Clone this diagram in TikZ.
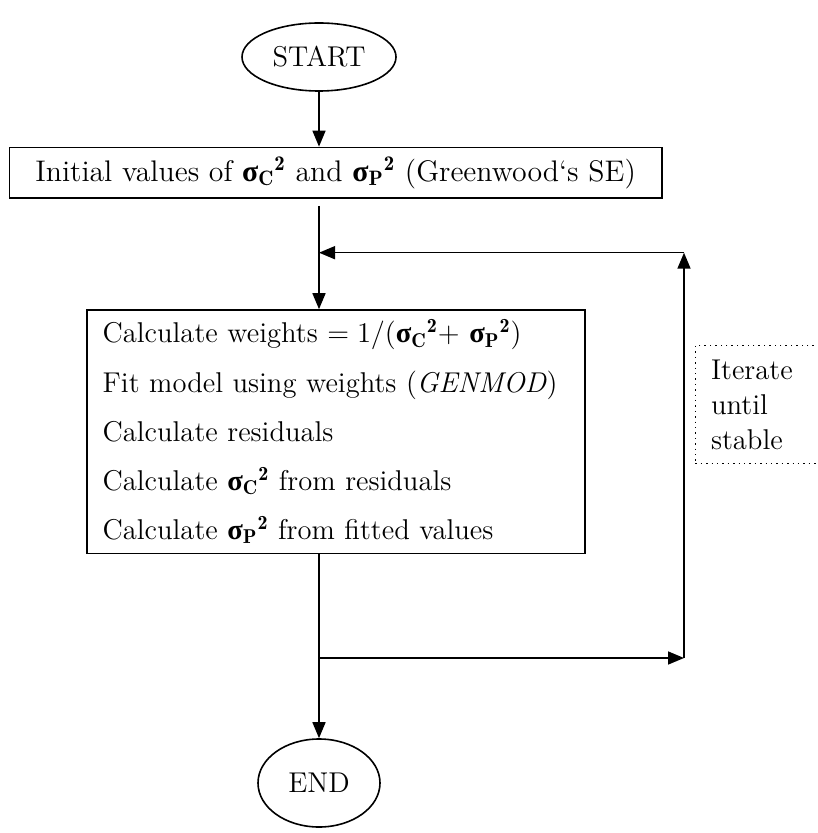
\RequirePackage{fix-cm}
\documentclass[tikz,border=0pt]{standalone}
\usepackage{fontspec}
\newfontfamily\sigfont{Liberation Serif}
\usetikzlibrary{shapes.geometric,arrows.meta}

\newcommand{\sigC}{{\hbox{\sigfont\bfseries σ}_{\mathbf{C}}}^{\mathbf{2}}}
\newcommand{\sigP}{{\hbox{\sigfont\bfseries σ}_{\mathbf{P}}}^{\mathbf{2}}}

\begin{document}
\begin{tikzpicture}
	[
		x=0.5pt, y=-0.5pt,
		line width=0.8pt,
		txt/.style = {font=\fontsize{14.3}{24.6}\selectfont},
		terminal/.style = {txt, shape=ellipse, draw, inner sep=0pt},
		process/.style = {txt, shape=rectangle, draw, inner sep=0pt},
		note/.style = {shape=rectangle, draw, dotted, line width=0.7pt, anchor=north west,
			font=\fontsize{14.3}{17.5}\selectfont, align=left, inner xsep=6pt},
		flow/.style = {-{Triangle[length=8pt, width=6.5pt]}}
	]
	
	\useasboundingbox (0,0) rectangle (817,833);
	
	\def\ax{319}
	\def\lx{684}
	
	\node [terminal, minimum width=77pt, minimum height=34pt] (start) at (\ax, 57) {START};
	
	\node [process, minimum width=326.2pt, minimum height=25.25pt,
		font=\fontsize{14.9}{18}\selectfont] (init) at (335.6, 172.7)
		{Initial values of $\sigC$ and $\sigP$ (Greenwood`s SE)};
	
	\node [process, minimum width=248.85pt, minimum height=121.7pt, align=left,
		text width=233.15pt, inner xsep=7.85pt] (calc) at (335.85, 431.7)
		{Calculate weights $= 1/(\sigC{+}\ \sigP)$\\
		Fit model using weights (\textit{GENMOD})\\
		Calculate residuals\\
		Calculate $\sigC$ from residuals\\
		Calculate $\sigP$ from fitted values};
	
	\node [note, minimum width=67.7pt, minimum height=58.85pt, text width=52pt] (iter) at (694.6, 345)
		{Iterate\\ until\\ stable};
	
	\node [terminal, minimum width=61pt, minimum height=44pt] (end) at (\ax, 783) {END};
	
	\coordinate (entry) at (\ax, 206);
	\coordinate (merge) at (\ax, 252.7);
	\coordinate (fork) at (\ax, 658);
	\coordinate (loopbot) at (\lx, 658);
	\coordinate (looptop) at (\lx, 252.7);
	
	\draw [flow] (start) -- (start.south |- init.north);
	\draw [flow] (entry) -- (entry |- calc.north);
	\draw (entry |- calc.south) -- (fork);
	\draw [flow] (fork) -- (end);
	\draw [flow] (fork) -- (loopbot);
	\draw [flow] (loopbot) -- (looptop);
	\draw [flow] (looptop) -- (merge);
	
\end{tikzpicture}
\end{document}
